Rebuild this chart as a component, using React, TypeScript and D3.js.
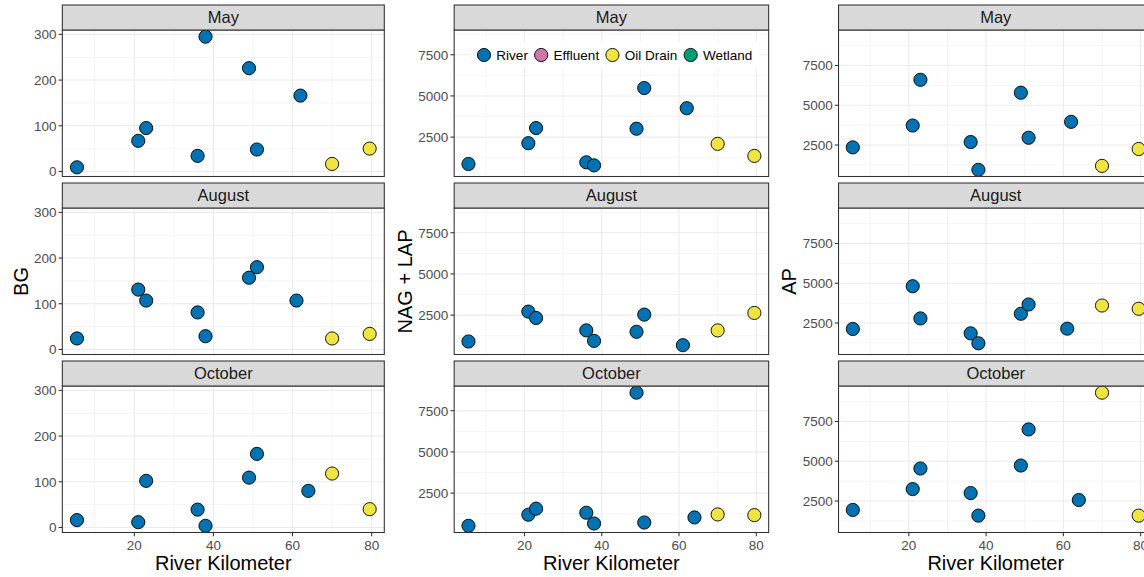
import { useEffect, useRef } from 'react';
import * as d3 from 'd3';

// facet rows
const months = ['May', 'August', 'October'];

// legend entries and their fill colours
const siteTypes = ['River', 'Effluent', 'Oil Drain', 'Wetland'];
const typeColors = ['#0072B2', '#CC79A7', '#F0E442', '#009E73'];

// river kilometre of each sampling site per month (last two are oil drains)
const kmMay = [5.5, 21, 23, 36, 38, 49, 51, 62, 70, 79.5];
const kmAug = [5.5, 21, 23, 36, 38, 49, 51, 61, 70, 79.5];
const kmOct = [5.5, 21, 23, 36, 38, 49, 51, 64, 70, 79.5];
const siteKind = ['River', 'River', 'River', 'River', 'River', 'River', 'River', 'River', 'Oil Drain', 'Oil Drain'];

// BG activity
const bgMay = [9, 67, 95, 34, 295, 226, 48, 166, 16.5, 50];
const bgAug = [24, 131, 107, 81, 29, 157, 180, 107, 24, 34];
const bgOct = [16, 11.5, 102, 39, 3.5, 109, 161, 80, 118, 40];

// NAG + LAP activity
const nagMay = [870, 2130, 3050, 970, 785, 3010, 5480, 4255, 2090, 1360];
const nagAug = [900, 2713, 2327, 1573, 937, 1488, 2530, 674, 1573, 2633];
const nagOct = [514, 1188, 1555, 1310, 655, 8598, 716, 1023, 1207, 1165];

// AP activity
const apMay = [2350, 3725, 6600, 2688, 938, 5788, 2956, 3956, 1188, 2250];
const apAug = [2125, 4813, 2788, 1850, 1225, 3081, 3663, 2144, 3600, 3394];
const apOct = [1938, 3250, 4544, 3000, 1581, 4731, 7000, 2563, 9313, 1581];

// tick labels
const xTicks = [20, 40, 60, 80];
const bgTicks = [0, 100, 200, 300];
const enzTicks = [2500, 5000, 7500];

const kms = [kmMay, kmAug, kmOct];
const plots = [
    { title: 'BG', values: [bgMay, bgAug, bgOct], ticks: bgTicks },
    { title: 'NAG + LAP', values: [nagMay, nagAug, nagOct], ticks: enzTicks },
    { title: 'AP', values: [apMay, apAug, apOct], ticks: enzTicks },
];

const FONT = '"Liberation Sans", Arial, Helvetica, sans-serif';

// ggplot style 5% expansion of the data range
const expand = (vals: number[]) => {
    const [lo, hi] = d3.extent(vals) as [number, number];
    const pad = (hi - lo) * 0.05;
    return [lo - pad, hi + pad];
};

// minor breaks half way between the major ones
const minorBreaks = (ticks: number[], dom: number[]) => {
    const step = ticks[1] - ticks[0];
    const out: number[] = [];
    for (let v = ticks[0] - step / 2; v <= ticks[ticks.length - 1] + step / 2; v += step) {
        if (v > dom[0] && v < dom[1]) out.push(v);
    }
    return out;
};

const App = () => {
    const ref = useRef<SVGSVGElement>(null);

    useEffect(() => {
        const svg = d3.select(ref.current);
        svg.selectAll('*').remove();

        svg.append('rect').attr('width', 1144).attr('height', 577).attr('fill', '#fff');

        const plotStep = 384.35;
        const stripH = 25;
        const panelH = 146.5;
        const rowStep = 178;
        const tickFont = 13.5;

        const xDom = expand(kms.flat());
        const xMinor = minorBreaks(xTicks, xDom);

        plots.forEach((p, pi) => {
            const ox = pi * plotStep;
            const maxLen = d3.max(p.ticks, (t) => String(t).length) as number;
            const left = ox + 39.8 + maxLen * 0.556 * tickFont;
            const right = ox + 384.3;
            const x = d3.scaleLinear().domain(xDom).range([left, right]);
            const yDom = expand(p.values.flat());
            const yMinor = minorBreaks(p.ticks, yDom);

            months.forEach((m, mi) => {
                const top = 5 + mi * rowStep;
                const pTop = top + stripH;
                const pBot = pTop + panelH;
                const y = d3.scaleLinear().domain(yDom).range([pBot, pTop]);
                const g = svg.append('g');

                // panel background
                g.append('rect').attr('x', left).attr('y', pTop).attr('width', right - left).attr('height', panelH).attr('fill', '#fff');

                // minor grid
                g.selectAll('.ymin').data(yMinor).enter().append('line')
                    .attr('x1', left).attr('x2', right)
                    .attr('y1', (d) => y(d)).attr('y2', (d) => y(d))
                    .attr('stroke', '#EBEBEB').attr('stroke-width', 0.55);
                g.selectAll('.xmin').data(xMinor).enter().append('line')
                    .attr('x1', (d) => x(d)).attr('x2', (d) => x(d))
                    .attr('y1', pTop).attr('y2', pBot)
                    .attr('stroke', '#EBEBEB').attr('stroke-width', 0.55);

                // major grid
                g.selectAll('.ymaj').data(p.ticks).enter().append('line')
                    .attr('x1', left).attr('x2', right)
                    .attr('y1', (d) => y(d)).attr('y2', (d) => y(d))
                    .attr('stroke', '#EBEBEB').attr('stroke-width', 1.07);
                g.selectAll('.xmaj').data(xTicks).enter().append('line')
                    .attr('x1', (d) => x(d)).attr('x2', (d) => x(d))
                    .attr('y1', pTop).attr('y2', pBot)
                    .attr('stroke', '#EBEBEB').attr('stroke-width', 1.07);

                // points
                const pts = p.values[mi].map((v, i) => ({ km: kms[mi][i], v, kind: siteKind[i] }));
                g.selectAll('.pt').data(pts).enter().append('circle')
                    .attr('cx', (d) => x(d.km))
                    .attr('cy', (d) => y(d.v))
                    .attr('r', 6.6)
                    .attr('fill', (d) => typeColors[siteTypes.indexOf(d.kind)])
                    .attr('stroke', '#000')
                    .attr('stroke-width', 0.9);

                // panel border
                g.append('rect').attr('x', left).attr('y', pTop).attr('width', right - left).attr('height', panelH)
                    .attr('fill', 'none').attr('stroke', '#333333').attr('stroke-width', 1.07);

                // strip
                g.append('rect').attr('x', left).attr('y', top).attr('width', right - left).attr('height', stripH)
                    .attr('fill', '#D9D9D9').attr('stroke', '#333333').attr('stroke-width', 1.07);
                g.append('text')
                    .attr('x', (left + right) / 2).attr('y', top + stripH / 2)
                    .attr('dy', '0.36em')
                    .attr('text-anchor', 'middle')
                    .attr('font-family', FONT).attr('font-size', 16.5).attr('fill', '#1A1A1A')
                    .text(m);

                // y axis
                g.selectAll('.ytk').data(p.ticks).enter().append('line')
                    .attr('x1', left - 3.7).attr('x2', left)
                    .attr('y1', (d) => y(d)).attr('y2', (d) => y(d))
                    .attr('stroke', '#333333').attr('stroke-width', 1.07);
                g.selectAll('.ylb').data(p.ticks).enter().append('text')
                    .attr('x', left - 5.8).attr('y', (d) => y(d))
                    .attr('dy', '0.36em')
                    .attr('text-anchor', 'end')
                    .attr('font-family', FONT).attr('font-size', tickFont).attr('fill', '#4D4D4D')
                    .text((d) => d);

                // x axis only under the last row
                if (mi === months.length - 1) {
                    g.selectAll('.xtk').data(xTicks).enter().append('line')
                        .attr('x1', (d) => x(d)).attr('x2', (d) => x(d))
                        .attr('y1', pBot).attr('y2', pBot + 3.7)
                        .attr('stroke', '#333333').attr('stroke-width', 1.07);
                    g.selectAll('.xlb').data(xTicks).enter().append('text')
                        .attr('x', (d) => x(d)).attr('y', pBot + 17)
                        .attr('text-anchor', 'middle')
                        .attr('font-family', FONT).attr('font-size', tickFont).attr('fill', '#4D4D4D')
                        .text((d) => d);
                    svg.append('text')
                        .attr('x', (left + right) / 2).attr('y', pBot + 37.3)
                        .attr('text-anchor', 'middle')
                        .attr('font-family', FONT).attr('font-size', 20).attr('fill', '#000')
                        .text('River Kilometer');
                }
            });

            // y title
            svg.append('text')
                .attr('transform', `translate(${ox + 20.3},281.5) rotate(-90)`)
                .attr('dy', '0.36em')
                .attr('text-anchor', 'middle')
                .attr('font-family', FONT).attr('font-size', 20).attr('fill', '#000')
                .text(p.title);

            // legend sits inside the top panel of the middle plot
            if (pi === 1) {
                const lg = svg.append('g');
                const box = lg.append('rect').attr('fill', '#fff');
                let cur = 0;
                const cy = 55;
                siteTypes.forEach((t, ti) => {
                    lg.append('circle')
                        .attr('cx', cur + 6.5).attr('cy', cy).attr('r', 6.6)
                        .attr('fill', typeColors[ti]).attr('stroke', '#000').attr('stroke-width', 0.9);
                    const txt = lg.append('text')
                        .attr('x', cur + 18.9).attr('y', cy).attr('dy', '0.36em')
                        .attr('font-family', FONT).attr('font-size', 13.5).attr('fill', '#000')
                        .text(t);
                    const w = (txt.node() as SVGTextElement).getComputedTextLength();
                    cur = cur + 18.9 + w + (ti < siteTypes.length - 1 ? 6.8 : 0);
                });
                const shift = (left + right) / 2 + 3.5 - cur / 2;
                lg.attr('transform', `translate(${shift},0)`);
                box.attr('x', -8).attr('y', cy - 13).attr('width', cur + 16).attr('height', 26);
            }
        });

        return () => { svg.selectAll('*').remove(); };
    }, []);

    return (
        <svg ref={ref} width={1144} height={577} style={{ position: 'absolute', left: 0, top: 0, background: '#fff' }} />
    );
};

export default App;
